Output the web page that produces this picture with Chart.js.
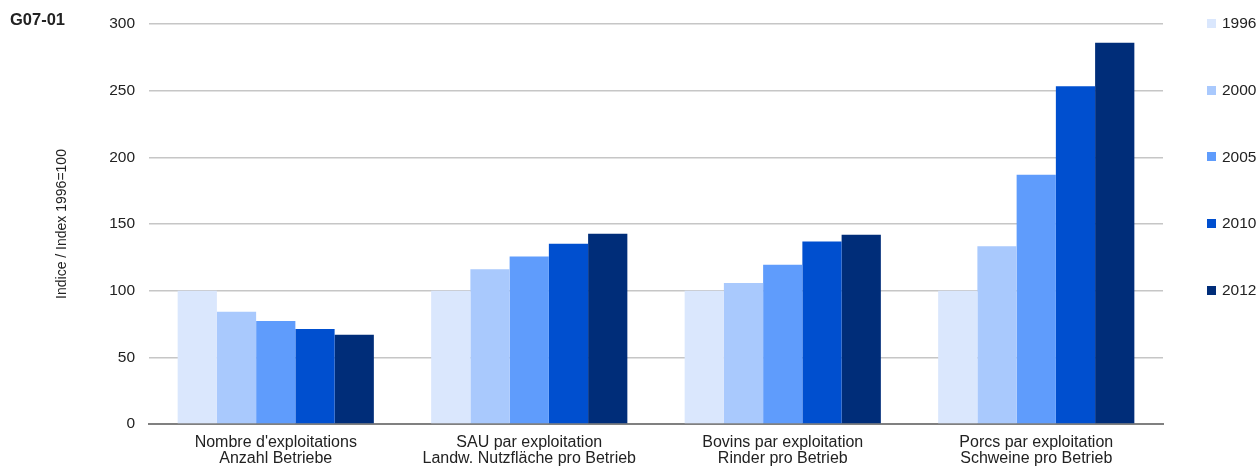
<!DOCTYPE html>
<html lang="fr">
<head>
  <meta charset="UTF-8">
  <title>G07-01</title>
  <style>
    html, body {
      margin: 0;
      padding: 0;
      background: #ffffff;
    }
    .chart-container {
      position: relative;
      width: 1258px;
      height: 469px;
    }
  </style>
</head>
<body>
  <div class="chart-container">
    <canvas id="indexChart"></canvas>
  </div>

  <script src="https://cdn.jsdelivr.net/npm/chart.js"></script>
  <script>
    // data (index 1996 = 100)
    const categories = [
      ["Nombre d'exploitations", 'Anzahl Betriebe'],
      ['SAU par exploitation', 'Landw. Nutzfläche pro Betrieb'],
      ['Bovins par exploitation', 'Rinder pro Betrieb'],
      ['Porcs par exploitation', 'Schweine pro Betrieb']
    ];
    const years = ['1996', '2000', '2005', '2010', '2012'];
    const values1996 = [100, 100, 100, 100];
    const values2000 = [84.2, 116, 105.8, 133.3];
    const values2005 = [77.2, 125.6, 119.5, 187];
    const values2010 = [71.2, 135.1, 136.8, 253.4];
    const values2012 = [66.9, 142.6, 141.9, 286];
    const yTicks = [0, 50, 100, 150, 200, 250, 300];

    const colors = ['#dae7fd', '#a9c9fd', '#5f9cfc', '#004fcf', '#002d79'];
    const seriesValues = [values1996, values2000, values2005, values2010, values2012];

    const FONT = 'Arial, "Liberation Sans", sans-serif';
    Chart.defaults.font.family = FONT;
    Chart.defaults.color = '#222222';

    // small legend on the right + chart code in the top-left corner
    const sideLegend = {
      id: 'sideLegend',
      afterDraw(chart) {
        const ctx = chart.ctx;
        const area = chart.chartArea;
        const step = (area.bottom - area.top) / 6;
        ctx.save();
        ctx.font = '15.5px ' + FONT;
        ctx.textBaseline = 'middle';
        ctx.textAlign = 'left';
        chart.data.datasets.forEach((ds, i) => {
          const y = area.top + i * step;
          ctx.fillStyle = ds.backgroundColor;
          ctx.fillRect(1207, Math.round(y - 5), 9, 9);
          ctx.fillStyle = '#222222';
          ctx.fillText(ds.label, 1222, y);
        });
        ctx.font = 'bold 16.5px ' + FONT;
        ctx.fillStyle = '#222222';
        ctx.fillText('G07-01', 10, 20);
        ctx.restore();
      }
    };

    new Chart(document.getElementById('indexChart'), {
      type: 'bar',
      data: {
        labels: categories,
        datasets: years.map((y, i) => ({
          label: y,
          data: seriesValues[i],
          backgroundColor: colors[i],
          borderWidth: 0,
          categoryPercentage: 0.774,
          barPercentage: 1.0
        }))
      },
      options: {
        responsive: true,
        maintainAspectRatio: false,
        animation: false,
        layout: {
          padding: { top: 24, right: 95, bottom: 0, left: 0 }
        },
        plugins: {
          legend: { display: false },
          tooltip: { enabled: false }
        },
        scales: {
          x: {
            grid: { display: false },
            border: { display: true, color: '#808080', width: 2 },
            ticks: {
              font: { size: 16, lineHeight: 1.0 },
              color: '#222222',
              padding: 3,
              maxRotation: 0
            },
            afterFit(scale) { scale.height = 45; }
          },
          y: {
            min: 0,
            max: 300,
            afterBuildTicks(scale) {
              scale.ticks = yTicks.map(v => ({ value: v }));
            },
            grid: {
              color: '#c6c6c6',
              lineWidth: 1.5,
              drawTicks: false
            },
            border: { display: false },
            ticks: {
              font: { size: 15.5 },
              color: '#222222',
              padding: 14
            },
            title: {
              display: true,
              text: 'Indice / Index 1996=100',
              font: { size: 14 },
              color: '#222222',
              padding: { top: 54, bottom: 0 }
            },
            afterFit(scale) { scale.width = 149; }
          }
        }
      },
      plugins: [sideLegend]
    });
  </script>
</body>
</html>
